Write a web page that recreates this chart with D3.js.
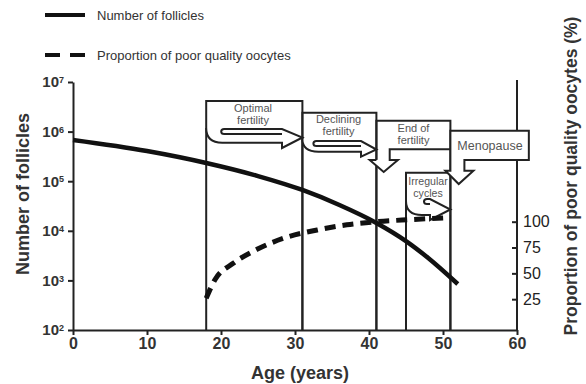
<!DOCTYPE html>
<html>
<head>
<meta charset="utf-8">
<script src="https://cdn.jsdelivr.net/npm/d3@7"></script>
<style>
  body { margin: 0; background: #fff; }
  svg { font-family: "Liberation Sans", Arial, Helvetica, sans-serif; }
  .axis path, .axis line { stroke: #222; stroke-width: 2; }
  .axis text { fill: #333; font-weight: bold; }
  .phase-text { fill: #555; font-size: 11px; text-anchor: middle; }
</style>
</head>
<body>
<div id="chart"></div>
<script>
// follicle count (left log axis)
const follicleAges = [0, 10, 18, 25, 31, 36, 41, 45, 48, 52];
const follicleCounts = [678000, 406000, 233000, 127000, 66500, 33100, 14400, 6200, 2830, 845];

// poor quality oocytes, % (right axis)
const poorAges = [18, 19.2, 21.7, 24.8, 28.9, 33, 37, 41, 45.5, 51];
const poorPct = [26, 44, 60, 73, 85, 92, 97, 100, 102, 104];

const xTicks = [0, 10, 20, 30, 40, 50, 60];
const leftExponents = [2, 3, 4, 5, 6, 7];
const rightTicks = [25, 50, 75, 100];

// reproductive phases: [start age, end age]
const phaseNames = ["Optimal fertility", "Declining fertility", "End of fertility", "Irregular cycles", "Menopause"];
const phaseStart = [18, 31, 41, 45, 51];
const phaseEnd = [31, 41, 51, 51, 61.6];

const W = 586, H = 384;
const svg = d3.select("#chart").append("svg")
    .attr("width", W)
    .attr("height", H);

const x = d3.scaleLinear().domain([0, 60]).range([73, 517]);
const yL = d3.scaleLog().domain([1e2, 1e7]).range([330, 82]);
const yR = d3.scaleLinear().domain([0, 100]).range([325, 221.7]);

// ---- axes
const xAxis = svg.append("g")
    .attr("class", "axis")
    .attr("transform", "translate(0,330)")
    .call(d3.axisBottom(x).tickValues(xTicks).tickSize(5).tickPadding(3).tickSizeOuter(0));
xAxis.selectAll("text").style("font-size", "16px");

const yAxisL = svg.append("g")
    .attr("class", "axis")
    .attr("transform", "translate(73,0)")
    .call(d3.axisLeft(yL).tickValues(leftExponents.map(e => Math.pow(10, e)))
        .tickSize(5).tickPadding(4).tickSizeOuter(0).tickFormat(""));
yAxisL.selectAll(".tick text").each(function(d) {
    const t = d3.select(this).style("font-size", "15px");
    t.append("tspan").text("10");
    t.append("tspan").text(Math.round(Math.log10(d)))
        .attr("dy", "-0.45em").style("font-size", "9px");
});

const yAxisR = svg.append("g")
    .attr("class", "axis")
    .attr("transform", "translate(517,0)")
    .call(d3.axisRight(yR).tickValues(rightTicks).tickSize(-5).tickPadding(6).tickSizeOuter(0));
yAxisR.select(".domain").attr("d", "M0,80V330");
yAxisR.selectAll("text").style("font-size", "16px").style("font-weight", "normal").style("fill", "#222");

// axis titles
svg.append("text")
    .attr("transform", "translate(29,194) rotate(-90)")
    .attr("text-anchor", "middle")
    .style("font-size", "18px").style("font-weight", "bold").style("fill", "#333")
    .text("Number of follicles");

svg.append("text")
    .attr("transform", "translate(577,176) rotate(-90)")
    .attr("text-anchor", "middle")
    .style("font-size", "17.5px").style("font-weight", "bold").style("fill", "#333")
    .text("Proportion of poor quality oocytes (%)");

svg.append("text")
    .attr("x", 300).attr("y", 379)
    .attr("text-anchor", "middle")
    .style("font-size", "18px").style("font-weight", "bold").style("fill", "#333")
    .text("Age (years)");

// ---- phase boxes
const boxTop = [101, 112.7, 120.7, 172.7, 130.7];
const ink = "#222";
const phases = svg.append("g").attr("fill", "#fff").attr("stroke", ink).attr("stroke-width", 2);

// walls that run down to the x axis
[0, 1, 2, 3].forEach(i => {
    phases.append("path")
        .attr("d", `M${x(phaseStart[i])},330V${boxTop[i]}H${x(phaseEnd[i])}V330`)
        .attr("fill", "none");
});

// curved right arrows: wall x, band bottom, shaft bottom, head base x, head top, head bottom, tip
function curvedArrow(a) {
    const xl = x(a.from), xt = x(a.to);
    return `M${xl},${a.y0}` +
        `C${xl},${a.y0 + (a.yb - a.y0) * 0.7} ${xl + 6},${a.yb} ${xl + 16},${a.yb}` +
        `H${a.hb}V${a.hBot}L${xt},${a.tip}L${a.hb},${a.hTop}` +
        `H${xl + a.lip + 3}Q${xl + a.lip},${a.hTop} ${xl + a.lip},${a.hTop + 2.5}` +
        `Q${xl + a.lip},${a.hTop + 5} ${xl + a.lip + 3},${a.hTop + 5}H${a.hb}`;
}
const curvedArrows = [
    { from: 18, to: 31, y0: 128, yb: 142.7, hb: 282, hTop: 129, hBot: 148, tip: 137.5, lip: 15 },
    { from: 31, to: 41, y0: 139, yb: 151.7, hb: 361, hTop: 141, hBot: 156.7, tip: 149.5, lip: 11 },
    { from: 45, to: 51, y0: 201, yb: 215, hb: 430, hTop: 199, hBot: 220, tip: 209.5, lip: 18 }
];
curvedArrows.forEach(a => {
    phases.append("path").attr("d", curvedArrow(a)).attr("stroke-linejoin", "miter");
});

// End of fertility: band bottom with a down arrow
{
    const l = x(41), r = x(51);
    phases.append("path")
        .attr("d", `M${r},149.3H${l + 13.3}V160H${l + 21.5}L${l + 7.3},172L${l - 6.7},160H${l}`);
}
// Menopause label box with down arrow (drawn over the right axis)
{
    const l = x(51), r = x(61.6);
    phases.append("path")
        .attr("d", `M${l},${boxTop[4]}H${r}V160H${l + 14}V170.7H${l + 23}L${l + 8.3},184L${l - 5},170.7H${l}Z`);
}

const phaseLines = [["Optimal", "fertility"], ["Declining", "fertility"], ["End of", "fertility"], ["Irregular", "cycles"], ["Menopause"]];
const textPos = [
    { cx: 253, y: 111.5, dy: 12.6 },
    { cx: 338.5, y: 122.8, dy: 12.6 },
    { cx: 413.5, y: 131.5, dy: 12.6 },
    { cx: 428, y: 184.5, dy: 12.2 },
    { cx: 490, y: 149.5, dy: 0 }
];
phaseLines.forEach((lines, i) => {
    const t = svg.append("text").attr("class", "phase-text")
        .style("font-size", i === 3 ? "10.6px" : (i === 4 ? "12.5px" : "11px"));
    lines.forEach((s, j) => {
        t.append("tspan").attr("x", textPos[i].cx).attr("y", textPos[i].y + j * textPos[i].dy).text(s);
    });
});

// ---- curves
const follicleLine = d3.line()
    .x(d => x(d[0]))
    .y(d => yL(d[1]))
    .curve(d3.curveMonotoneX);
svg.append("path")
    .datum(follicleAges.map((a, i) => [a, follicleCounts[i]]))
    .attr("d", follicleLine)
    .attr("fill", "none").attr("stroke", "#111").attr("stroke-width", 4.5);

const poorLine = d3.line()
    .x(d => x(d[0]))
    .y(d => yR(d[1]))
    .curve(d3.curveMonotoneX);
svg.append("path")
    .datum(poorAges.map((a, i) => [a, poorPct[i]]))
    .attr("d", poorLine)
    .attr("fill", "none").attr("stroke", "#111").attr("stroke-width", 5)
    .attr("stroke-dasharray", "11,7");

// ---- legend
const legend = svg.append("g");
legend.append("line").attr("x1", 45).attr("x2", 85).attr("y1", 15).attr("y2", 15)
    .attr("stroke", "#111").attr("stroke-width", 4);
legend.append("line").attr("x1", 45).attr("x2", 85).attr("y1", 55).attr("y2", 55)
    .attr("stroke", "#111").attr("stroke-width", 4).attr("stroke-dasharray", "15,10");
legend.append("text").attr("x", 97).attr("y", 19.5)
    .style("font-size", "13px").style("fill", "#333").text("Number of follicles");
legend.append("text").attr("x", 97).attr("y", 59.5)
    .style("font-size", "13px").style("fill", "#333").text("Proportion of poor quality oocytes");
</script>
</body>
</html>
